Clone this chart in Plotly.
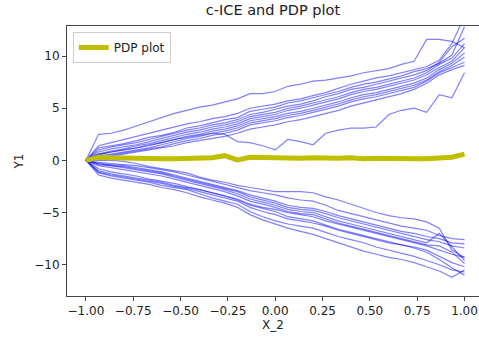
import numpy as np
import plotly.graph_objects as go

# Grid of feature values for X_2
x_grid = [round(-1 + i / 15, 4) for i in range(31)]

# Centered ICE curves, rising group
ice_up = [
    [0, 2.5, 2.6, 2.9, 3.3, 3.7, 4.1, 4.5, 4.8, 5.1, 5.3, 5.6, 5.9, 6.4, 6.4, 6.6, 7.1, 7.3, 7.6, 7.7, 7.9, 8.1, 8.4, 8.6, 8.8, 9.2, 9.5, 11.6, 11.6, 11.4, 10.8],
    [0, 1.4, 1.7, 2.0, 2.3, 2.6, 2.9, 3.2, 3.5, 3.7, 4.0, 4.2, 4.5, 5.0, 5.2, 5.4, 5.7, 5.9, 6.2, 6.5, 6.9, 7.3, 7.6, 7.9, 8.1, 8.4, 8.7, 9.0, 9.6, 11.2, 13.8],
    [0, 1.2, 1.4, 1.6, 1.9, 2.2, 2.4, 2.7, 3.1, 3.3, 3.6, 3.9, 4.1, 4.7, 4.9, 5.1, 5.5, 5.7, 6.0, 6.3, 6.6, 7.0, 7.3, 7.5, 7.8, 8.1, 8.5, 8.8, 9.3, 10.1, 12.8],
    [0, 1.0, 1.3, 1.5, 1.7, 2.0, 2.3, 2.6, 2.9, 3.1, 3.4, 3.6, 3.9, 4.4, 4.6, 4.9, 5.2, 5.4, 5.7, 6.1, 6.4, 6.8, 7.0, 7.3, 7.6, 7.9, 8.2, 8.6, 9.4, 10.9, 11.7],
    [0, 0.8, 1.1, 1.3, 1.5, 1.8, 2.1, 2.4, 2.7, 2.9, 3.2, 3.4, 3.7, 4.2, 4.4, 4.6, 5.0, 5.2, 5.5, 5.8, 6.1, 6.5, 6.8, 7.0, 7.3, 7.6, 7.9, 8.4, 9.2, 9.8, 11.2],
    [0, 0.6, 0.9, 1.1, 1.4, 1.6, 1.9, 2.2, 2.5, 2.7, 3.0, 3.2, 3.5, 4.0, 4.2, 4.4, 4.8, 5.0, 5.3, 5.6, 5.9, 6.3, 6.6, 6.8, 7.1, 7.4, 7.7, 8.2, 8.9, 9.5, 10.8],
    [0, 0.5, 0.8, 1.0, 1.2, 1.4, 1.7, 2.0, 2.3, 2.5, 2.8, 3.0, 3.3, 3.8, 4.0, 4.2, 4.5, 4.7, 5.0, 5.3, 5.6, 6.0, 6.3, 6.5, 6.8, 7.1, 7.4, 7.9, 8.7, 9.3, 10.3],
    [0, 0.4, 0.6, 0.8, 1.0, 1.2, 1.5, 1.8, 2.1, 2.3, 2.6, 2.8, 3.1, 3.6, 3.8, 4.0, 4.3, 4.5, 4.8, 5.1, 5.4, 5.8, 6.1, 6.3, 6.6, 6.9, 7.2, 7.7, 8.5, 9.1, 9.9],
    [0, 0.3, 0.5, 0.7, 0.9, 1.1, 1.3, 1.6, 1.9, 2.1, 2.4, 2.6, 2.9, 3.4, 3.6, 3.8, 4.1, 4.3, 4.6, 4.9, 5.2, 5.6, 5.9, 6.1, 6.4, 6.7, 7.0, 7.6, 8.4, 8.9, 9.4],
    [0, 0.2, 0.4, 0.6, 0.8, 1.0, 1.2, 1.4, 1.7, 1.9, 2.1, 2.3, 2.6, 3.0, 3.2, 3.4, 3.7, 3.9, 4.2, 4.5, 4.8, 5.2, 5.5, 5.8, 6.1, 6.4, 6.8, 7.4, 8.2, 8.7, 9.1],
    [0, 0.6, 0.8, 1.0, 1.2, 1.5, 1.7, 2.0, 2.2, 2.4, 2.6, 2.5, 1.8, 1.7, 1.4, 1.0, 2.0, 1.8, 1.5, 2.6, 2.9, 3.1, 3.1, 3.2, 4.4, 4.8, 5.0, 4.6, 6.3, 6.0, 8.4],
]

# Centered ICE curves, falling group
ice_down = [
    [0, 0, 0, -0.1, -0.3, -0.6, -0.8, -1.0, -1.2, -1.6, -1.9, -2.1, -2.4, -2.6, -2.8, -3.0, -3.0, -3.0, -3.1, -3.5, -3.8, -4.2, -4.6, -5.0, -5.3, -5.5, -5.6, -5.9, -6.5, -8.6, -9.3],
    [0, -0.2, -0.3, -0.4, -0.5, -0.7, -0.9, -1.1, -1.4, -1.7, -2.0, -2.3, -2.6, -2.9, -3.1, -3.3, -3.6, -3.8, -3.9, -4.3, -4.8, -5.1, -5.4, -5.7, -6.0, -6.3, -6.5, -6.7, -7.2, -7.5, -7.6],
    [0, -0.3, -0.4, -0.5, -0.7, -0.9, -1.1, -1.4, -1.7, -2.0, -2.3, -2.6, -2.9, -3.3, -3.6, -3.9, -4.3, -4.5, -4.6, -4.9, -5.3, -5.6, -5.9, -6.2, -6.5, -6.8, -7.0, -7.3, -7.5, -7.9, -8.0],
    [0, -0.3, -0.5, -0.6, -0.8, -1.0, -1.2, -1.5, -1.8, -2.1, -2.4, -2.7, -3.0, -3.5, -3.8, -4.1, -4.5, -4.7, -4.8, -5.1, -5.5, -5.8, -6.1, -6.4, -6.7, -7.0, -7.3, -7.6, -7.8, -8.2, -8.4],
    [0, -0.4, -0.5, -0.7, -0.9, -1.1, -1.3, -1.6, -1.9, -2.2, -2.5, -2.8, -3.2, -3.7, -4.0, -4.3, -4.7, -4.9, -5.0, -5.4, -5.8, -6.1, -6.4, -6.7, -7.0, -7.3, -7.6, -7.9, -7.0, -8.3, -9.6],
    [0, -0.5, -0.7, -0.9, -1.1, -1.3, -1.5, -1.8, -2.1, -2.4, -2.7, -3.0, -3.4, -3.9, -4.2, -4.5, -4.9, -5.1, -5.2, -5.6, -6.0, -6.3, -6.6, -6.9, -7.2, -7.5, -7.8, -8.1, -8.2, -8.8, -9.9],
    [0, -1.0, -1.3, -1.5, -1.7, -1.9, -2.1, -2.4, -2.6, -2.8, -3.1, -3.4, -3.7, -4.2, -4.5, -4.7, -5.0, -5.2, -5.4, -5.8, -6.1, -6.4, -6.7, -7.0, -7.3, -7.6, -7.9, -8.2, -8.6, -9.0, -9.3],
    [0, -1.1, -1.4, -1.6, -1.8, -2.0, -2.2, -2.5, -2.7, -3.0, -3.3, -3.6, -3.9, -4.5, -4.9, -5.2, -5.6, -5.8, -6.0, -6.3, -6.7, -7.0, -7.3, -7.6, -7.9, -8.1, -8.3, -8.6, -9.2, -9.8, -10.2],
    [0, -1.2, -1.5, -1.7, -1.9, -2.1, -2.4, -2.6, -2.8, -3.2, -3.6, -3.9, -4.2, -4.9, -5.4, -5.8, -6.1, -6.3, -6.5, -6.9, -7.3, -7.6, -7.9, -8.3, -8.6, -8.9, -9.2, -9.6, -10.0, -10.5, -10.7],
    [0, -1.4, -1.7, -1.9, -2.1, -2.3, -2.6, -2.8, -3.1, -3.5, -3.8, -4.1, -4.5, -5.2, -5.7, -6.1, -6.5, -6.8, -7.1, -7.5, -7.9, -8.3, -8.7, -9.0, -9.3, -9.5, -9.8, -10.2, -10.6, -11.2, -10.5],
    [0, -0.8, -1.1, -1.3, -1.5, -1.8, -2.0, -2.2, -2.5, -2.8, -3.1, -3.4, -3.8, -4.3, -4.6, -4.9, -5.4, -5.6, -5.8, -6.2, -6.6, -6.9, -7.2, -7.5, -7.8, -8.1, -8.4, -8.8, -9.5, -10.3, -11.0],
]

# Partial dependence curve
pdp = [0, 0.3, 0.25, 0.2, 0.2, 0.15, 0.15, 0.15, 0.2, 0.2, 0.25, 0.45, 0.05, 0.3, 0.25, 0.25, 0.2, 0.2,
       0.25, 0.2, 0.2, 0.25, 0.15, 0.2, 0.15, 0.2, 0.15, 0.15, 0.2, 0.3, 0.6]

x_ticks = [-1.0, -0.75, -0.5, -0.25, 0.0, 0.25, 0.5, 0.75, 1.0]
y_ticks = [-10, -5, 0, 5, 10]

FONT = "DejaVu Sans"

fig = go.Figure()

for curve in ice_up + ice_down:
    fig.add_trace(go.Scatter(
        x=x_grid, y=curve, mode="lines",
        line=dict(color="rgba(0,0,255,0.5)", width=1.2),
        showlegend=False, hoverinfo="skip",
    ))

fig.add_trace(go.Scatter(
    x=x_grid, y=pdp, mode="lines", name="PDP plot",
    line=dict(color="#bfbf00", width=5),
))

axis_common = dict(
    showline=True, linecolor="#444", linewidth=1,
    ticks="outside", ticklen=4, tickwidth=1, tickcolor="#444",
    showgrid=False, zeroline=False,
    tickfont=dict(family=FONT, size=12, color="#222"),
)

fig.update_layout(
    width=479, height=341,
    margin=dict(l=67, r=0, t=26, b=45),
    paper_bgcolor="white", plot_bgcolor="white",
    title=dict(text="c-ICE and PDP plot", x=0.5, xref="paper", xanchor="center",
               y=1, yref="container", yanchor="top", pad=dict(t=5),
               font=dict(family=FONT, size=14.5, color="#222")),
    xaxis=dict(range=[-1.1, -1.1 + 412 / 189.3], tickvals=x_ticks, tickformat=".2f",
               mirror=True,
               title=dict(text="X_2", font=dict(family=FONT, size=12, color="#222"), standoff=2),
               **axis_common),
    yaxis=dict(range=[-13.0, 12.88], tickvals=y_ticks, mirror=False,
               title=dict(text="Y1", font=dict(family=FONT, size=12, color="#222"), standoff=8),
               **axis_common),
    legend=dict(x=0.014, y=0.978, xanchor="left", yanchor="top",
                bgcolor="white", bordercolor="#cccccc", borderwidth=1,
                font=dict(family=FONT, size=12, color="#222"),
                itemwidth=30, tracegroupgap=0),
)

fig.write_html("out.html")
